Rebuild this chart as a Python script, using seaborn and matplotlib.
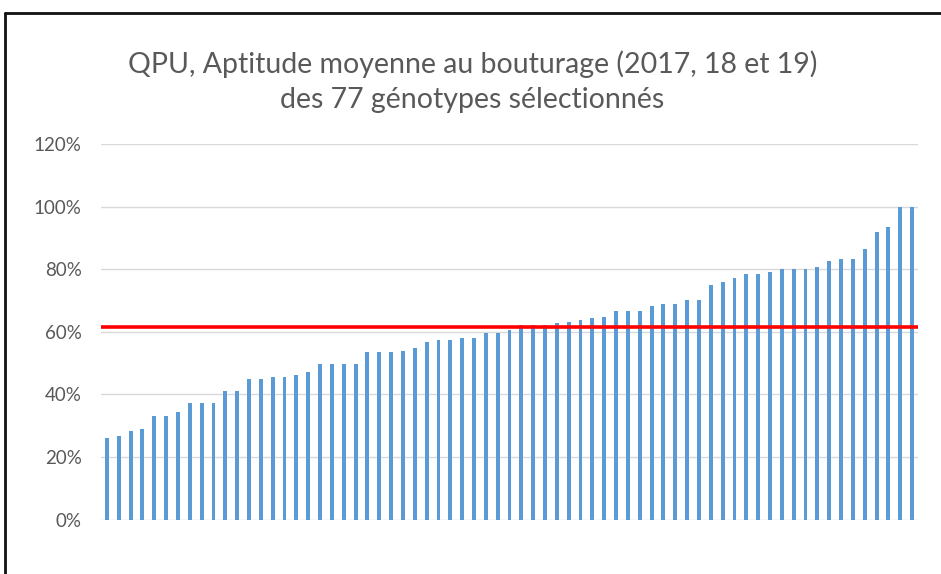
import matplotlib
matplotlib.use("Agg")
import matplotlib.pyplot as plt
import seaborn as sns
import pandas as pd
from matplotlib.lines import Line2D
from matplotlib.ticker import PercentFormatter

# ---- data ----
values = [26.0, 26.8, 28.4, 28.9, 33.2, 33.2, 34.4, 37.3, 37.3, 37.3, 41.2, 41.2,
          44.8, 44.8, 45.6, 45.6, 46.1, 47.2, 49.6, 49.6, 49.6, 49.6,
          53.6, 53.6, 53.6, 54.0, 54.8, 56.8, 57.5, 57.5, 58.0, 58.0, 59.7, 59.7,
          60.7, 62.1, 62.1, 62.1, 62.7, 63.2, 63.9, 64.3, 64.9, 66.5, 66.5, 66.5,
          68.1, 68.8, 68.8, 70.1, 70.1, 74.9, 76.0, 77.2, 78.4, 78.4, 79.2, 80.0,
          80.0, 80.0, 80.8, 82.6, 83.2, 83.2, 86.5, 91.8, 93.6, 100.0, 100.0]
genotypes = [f"G{i+1}" for i in range(len(values))]
reference_line = 61.5
yticks = [0, 20, 40, 60, 80, 100, 120]
title_lines = ["QPU, Aptitude moyenne au bouturage (2017, 18 et 19)",
               "des 77 génotypes sélectionnés"]

sns.set_theme(style="white")
plt.rcParams['font.family'] = ['Lato', 'DejaVu Sans']

df = pd.DataFrame({"genotype": genotypes, "value": [v / 100 for v in values]})

fig = plt.figure(figsize=(9.41, 5.74), dpi=100)
ax = fig.add_axes([101 / 941, 1 - 519.7 / 574, (918 - 101) / 941, (519.7 - 144) / 574])
ax.set_axisbelow(True)

sns.barplot(data=df, x="genotype", y="value", color="#5B9BD5", width=0.33,
            saturation=1, linewidth=0, ax=ax, zorder=3)
ax.axhline(reference_line / 100, color="#FF0000", lw=2.6, zorder=4)

ax.set_xlim(-0.5, len(values) - 0.5)
ax.set_ylim(0, 1.2)
ax.set_yticks([t / 100 for t in yticks])
ax.yaxis.set_major_formatter(PercentFormatter(1.0, decimals=0))
ax.grid(axis="y", color="#D9D9D9", lw=1, zorder=0)
ax.set_xticks([])
ax.set_xlabel("")
ax.set_ylabel("")
for s in ax.spines.values():
    s.set_visible(False)
ax.tick_params(axis="y", length=0, pad=14, labelsize=13.5, labelcolor="#595959")

fig.text(0.502, 1 - 73.5 / 574, title_lines[0], ha="center", va="baseline",
         fontsize=20.5, color="#595959")
fig.text(0.502, 1 - 108.5 / 574, title_lines[1], ha="center", va="baseline",
         fontsize=20.5, color="#595959")

# outer frame (top and left edges visible)
fig.add_artist(Line2D([5 / 941, 5 / 941], [0, 1 - 13 / 574], transform=fig.transFigure,
                      color="#111111", lw=2))
fig.add_artist(Line2D([5 / 941, 1], [1 - 13 / 574, 1 - 13 / 574], transform=fig.transFigure,
                      color="#111111", lw=2))

fig.savefig("out.png", dpi=100)
